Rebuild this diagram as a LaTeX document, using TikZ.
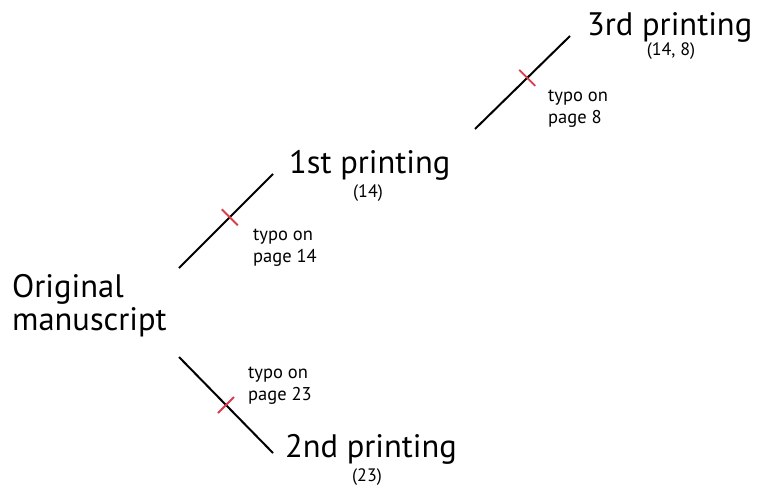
\documentclass[tikz,border=0pt]{standalone}
\usepackage{fontspec}
\setmainfont{PT Sans}
\begin{document}
\begin{tikzpicture}[x=1pt,y=-1pt,
  big/.style={font=\fontsize{32.5}{33}\selectfont, inner sep=0pt, align=left},
  count/.style={font=\fontsize{18}{19}\selectfont, inner sep=0pt},
  note/.style={font=\fontsize{18.5}{22}\selectfont, inner sep=0pt, align=left},
  branch/.style={line width=2pt, black},
  typo/.style={line width=1.8pt, color={rgb,255:red,218;green,60;blue,75}}]
\useasboundingbox (0,0) rectangle (757,498);

% version labels
\node[big, anchor=base west] (orig) at (12,330) {Original\\manuscript};
\node[big, anchor=base west] (p1) at (289,173) {1st printing};
\node[count] (c1) at (368,193) {(14)};
\node[big, anchor=base west] (p3) at (587,35) {3rd printing};
\node[count] (c3) at (671,51) {(14, 8)};
\node[big, anchor=base west] (p2) at (285,457) {2nd printing};
\node[count] (c2) at (367,477) {(23)};

% typo notes
\node[note, anchor=base west] (n1) at (253,262) {typo on\\page 14};
\node[note, anchor=base west] (n3) at (548,123) {typo on\\page 8};
\node[note, anchor=base west] (n2) at (248,400) {typo on\\page 23};

% branch end points
\coordinate (a1) at (179,268); \coordinate (b1) at (273,174);
\coordinate (a3) at (475,129); \coordinate (b3) at (570,36);
\coordinate (a2) at (179,357); \coordinate (b2) at (273,453);

\draw[branch] (a1) -- (b1) coordinate[pos=0.54] (m1);
\draw[branch] (a3) -- (b3) coordinate[pos=0.55] (m3);
\draw[branch] (a2) -- (b2) coordinate[pos=0.5] (m2);

% typo ticks across the branches
\draw[typo] ([shift={(-8,-8)}]m1) -- ([shift={(8,8)}]m1);
\draw[typo] ([shift={(-8,-8)}]m3) -- ([shift={(8,8)}]m3);
\draw[typo] ([shift={(-8,8)}]m2) -- ([shift={(8,-8)}]m2);
\end{tikzpicture}
\end{document}
